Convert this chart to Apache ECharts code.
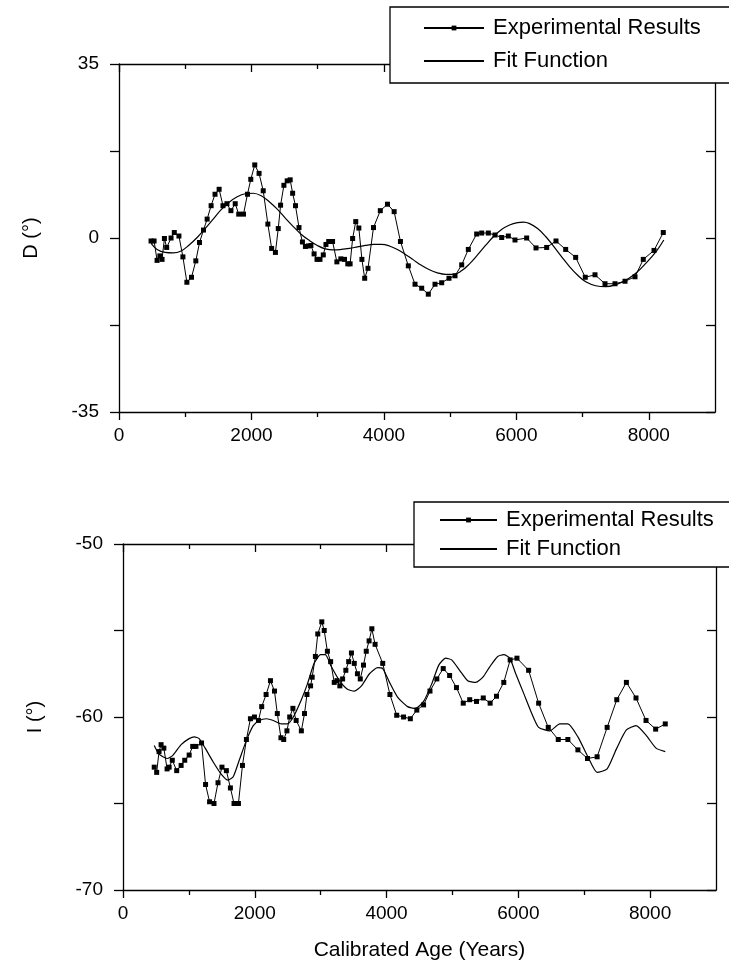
<!DOCTYPE html>
<html>
<head>
<meta charset="utf-8">
<title>D and I vs calibrated age</title>
<script src="https://cdn.jsdelivr.net/npm/echarts@6.0.0/dist/echarts.min.js"></script>
<style>
  html, body { margin: 0; padding: 0; background: #fff; }
  #chart { width: 729px; height: 979px; }
</style>
</head>
<body>
<div id="chart"></div>
<script>
// values (age in years, angles in degrees)
var ageTicks = [0, 2000, 4000, 6000, 8000];
var ageMinorTicks = [1000, 3000, 5000, 7000];
var decTicks = [-35, 0, 35];
var incTicks = [-70, -60, -50];

// D, experimental
var decExpAge = [484, 530, 575, 617, 650, 686, 720, 786, 835, 905, 965, 1025, 1095, 1160, 1216, 1276, 1331, 1391, 1450, 1512,
  1570, 1630, 1690, 1755, 1808, 1880, 1940, 1990, 2050, 2115, 2178, 2248, 2305, 2362, 2405, 2440, 2490, 2540, 2585, 2622,
  2665, 2718, 2770, 2815, 2860, 2898, 2946, 2990, 3035, 3085, 3125, 3167, 3225, 3290, 3350, 3405, 3455, 3490, 3528, 3575,
  3622, 3668, 3710, 3760, 3843, 3946, 4054, 4155, 4250, 4369, 4470, 4571, 4671, 4772, 4873, 4983, 5074, 5175, 5275, 5401,
  5477, 5577, 5678, 5779, 5879, 5980, 6156, 6297, 6458, 6599, 6745, 6896, 7041, 7188, 7339, 7490, 7641, 7792, 7917, 8079, 8219];
var decExp = [-0.6, -0.6, -4.5, -3.6, -4.3, -0.1, -1.9, 0.0, 1.1, 0.4, -3.8, -8.9, -7.9, -4.6, -0.9, 1.6, 3.8, 6.5, 8.8, 9.8,
  6.5, 6.9, 5.5, 6.9, 4.8, 4.8, 8.8, 11.8, 14.7, 13.0, 9.5, 2.8, -2.1, -2.9, 1.9, 6.6, 10.6, 11.5, 11.7, 9.0,
  6.5, 2.1, -0.8, -1.7, -1.6, -1.5, -3.2, -4.3, -4.3, -3.4, -1.3, -0.7, -0.7, -4.8, -4.2, -4.3, -5.2, -5.2, -0.1, 3.3,
  2.0, -4.3, -8.1, -6.1, 2.1, 5.5, 6.8, 5.3, -0.7, -5.6, -9.3, -10.1, -11.3, -9.3, -9.0, -8.1, -7.6, -5.4, -2.3, 0.8,
  1.0, 1.0, 0.6, 0.1, 0.4, -0.4, 0.0, -2.0, -1.9, -0.6, -2.3, -3.9, -7.9, -7.4, -9.2, -9.2, -8.7, -7.8, -4.3, -2.5, 1.1];

// D, fit
var decFitAge = [484, 575, 696, 817, 938, 1059, 1180, 1301, 1422, 1543, 1664, 1785, 1906, 2027, 2148, 2269, 2390, 2511, 2632, 2753,
  2874, 2995, 3116, 3237, 3358, 3479, 3600, 3720, 3841, 3962, 4083, 4204, 4325, 4446, 4567, 4688, 4809, 4930, 5051, 5172,
  5293, 5414, 5535, 5656, 5777, 5898, 6019, 6110, 6201, 6322, 6443, 6564, 6685, 6806, 6927, 7048, 7199, 7350, 7501, 7653,
  7804, 7955, 8107, 8227];
var decFit = [-1.1, -2.3, -2.9, -3.0, -2.6, -1.4, 0.1, 1.9, 3.8, 5.7, 7.2, 8.3, 8.9, 9.0, 8.5, 7.3, 5.8, 4.0, 2.3, 0.7,
  -0.5, -1.5, -2.2, -2.4, -2.3, -2.1, -1.8, -1.5, -1.3, -1.3, -1.6, -2.3, -3.3, -4.4, -5.5, -6.4, -7.0, -7.3, -7.3, -6.6,
  -5.2, -3.4, -1.5, 0.3, 1.7, 2.6, 3.1, 3.2, 2.9, 1.9, 0.3, -1.7, -3.8, -5.8, -7.5, -8.8, -9.6, -9.8, -9.4, -8.5,
  -7.1, -5.1, -2.8, -0.4];

// I, experimental
var incExpAge = [474, 511, 547, 578, 620, 669, 700, 748, 815, 882, 937, 1004, 1058, 1107, 1192, 1253, 1314, 1381, 1442, 1502,
  1569, 1630, 1685, 1752, 1813, 1873, 1934, 1995, 2056, 2105, 2172, 2238, 2299, 2342, 2397, 2439, 2488, 2530, 2579, 2628,
  2707, 2755, 2792, 2847, 2871, 2920, 2956, 3017, 3054, 3102, 3151, 3206, 3248, 3291, 3333, 3382, 3425, 3467, 3510, 3558,
  3601, 3650, 3692, 3735, 3777, 3826, 3942, 4051, 4154, 4258, 4361, 4459, 4562, 4659, 4763, 4860, 4957, 5061, 5164, 5262,
  5365, 5468, 5572, 5669, 5779, 5876, 5979, 6156, 6308, 6454, 6606, 6752, 6904, 7050, 7196, 7348, 7494, 7640, 7786, 7938,
  8084, 8230];
var incExp = [-62.9, -63.2, -62.0, -61.6, -61.8, -63.0, -62.9, -62.5, -63.1, -62.8, -62.5, -62.2, -61.7, -61.7, -61.5, -63.9, -64.9, -65.0, -63.8, -62.9,
  -63.1, -64.1, -65.0, -65.0, -62.8, -61.3, -60.1, -60.0, -60.2, -59.4, -58.7, -57.9, -58.5, -59.8, -61.2, -61.3, -60.8, -60.0, -59.5, -60.2,
  -60.8, -59.8, -58.7, -58.2, -57.7, -56.5, -55.2, -54.5, -55.0, -56.2, -56.8, -58.0, -57.9, -58.2, -57.8, -57.3, -56.8, -56.3, -56.9, -57.5,
  -57.8, -57.0, -56.2, -55.6, -54.9, -55.8, -56.9, -58.7, -59.9, -60.0, -60.1, -59.6, -59.3, -58.5, -57.8, -57.2, -57.6, -58.3, -59.2, -59.0,
  -59.1, -58.9, -59.2, -58.8, -58.0, -56.7, -56.6, -57.3, -59.2, -60.6, -61.3, -61.3, -61.9, -62.4, -62.3, -60.6, -59.0, -58.0, -58.9, -60.2,
  -60.7, -60.4];

// I, fit
var incFitAge = [474, 547, 669, 760, 882, 1004, 1083, 1156, 1247, 1369, 1490, 1594, 1673, 1764, 1873, 1977, 2068, 2178, 2281, 2403,
  2494, 2585, 2707, 2798, 2901, 2999, 3071, 3163, 3285, 3406, 3510, 3619, 3741, 3863, 3942, 4045, 4167, 4319, 4440, 4562,
  4684, 4793, 4897, 4988, 5109, 5231, 5353, 5462, 5566, 5687, 5779, 5870, 5961, 6083, 6204, 6308, 6478, 6630, 6752, 6904,
  7056, 7196, 7348, 7494, 7640, 7786, 7938, 8090, 8230];
var incFit = [-61.65, -62.15, -62.4, -62.2, -61.6, -61.25, -61.15, -61.25, -61.8, -62.6, -63.3, -63.65, -63.45, -62.5, -61.35, -60.5, -60.2, -60.1, -60.2, -60.4,
  -60.4, -60.0, -59.0, -58.1, -56.9, -56.4, -56.4, -57.1, -57.9, -58.4, -58.5, -58.2, -57.5, -57.15, -57.2, -58.0, -58.85, -59.4, -59.5, -59.1,
  -58.1, -57.0, -56.6, -56.7, -57.3, -57.9, -58.0, -57.7, -57.1, -56.5, -56.4, -56.6, -57.5, -58.65, -59.8, -60.6, -60.8, -60.4, -60.4, -61.15,
  -62.3, -63.2, -63.0, -61.8, -60.75, -60.5, -61.05, -61.8, -62.0];

function pairs(xs, ys) {
  return xs.map(function (x, i) { return [x, ys[i]]; });
}

var FONT = '"Liberation Sans", Arial, Helvetica, sans-serif';
var BLACK = '#000';
var lineSt = { color: BLACK, width: 1.3 };
var plain = function (v) { return String(v); };

// 4 x axes per panel: labelled bottom, minor bottom, mirrored top, minor top
function makeXAxes(grid, name) {
  var base = { type: 'value', gridIndex: grid, min: 0, max: 9000, interval: 1000, splitLine: { show: false } };
  return [
    Object.assign({}, base, {
      position: 'bottom',
      axisLine: { show: true, onZero: false, lineStyle: lineSt },
      axisTick: { show: true, inside: false, length: 8, customValues: ageTicks, lineStyle: lineSt },
      axisLabel: { customValues: ageTicks, formatter: plain, color: BLACK, fontSize: 19, fontFamily: FONT, margin: 14 },
      name: name || '',
      nameLocation: 'middle',
      nameGap: 50,
      nameTextStyle: { color: BLACK, fontSize: 21, fontFamily: FONT }
    }),
    Object.assign({}, base, {
      position: 'bottom',
      axisLine: { show: false, onZero: false },
      axisTick: { show: true, inside: false, length: 5, customValues: ageMinorTicks, lineStyle: lineSt },
      axisLabel: { show: false }
    }),
    Object.assign({}, base, {
      position: 'top',
      axisLine: { show: true, onZero: false, lineStyle: lineSt },
      axisTick: { show: true, inside: true, length: 8, customValues: ageTicks, lineStyle: lineSt },
      axisLabel: { show: false }
    }),
    Object.assign({}, base, {
      position: 'top',
      axisLine: { show: false, onZero: false },
      axisTick: { show: true, inside: true, length: 5, customValues: ageMinorTicks, lineStyle: lineSt },
      axisLabel: { show: false }
    })
  ];
}

function makeYAxes(grid, min, max, step, labels, name) {
  var base = { type: 'value', gridIndex: grid, min: min, max: max, interval: step, splitLine: { show: false } };
  return [
    Object.assign({}, base, {
      position: 'left',
      axisLine: { show: true, onZero: false, lineStyle: lineSt },
      axisTick: { show: true, inside: false, length: 9, lineStyle: lineSt },
      axisLabel: { customValues: labels, formatter: plain, color: BLACK, fontSize: 19, fontFamily: FONT, margin: 20 },
      name: name,
      nameLocation: 'middle',
      nameGap: 78,
      nameTextStyle: { color: BLACK, fontSize: 20, fontFamily: FONT }
    }),
    Object.assign({}, base, {
      position: 'right',
      axisLine: { show: true, onZero: false, lineStyle: lineSt },
      axisTick: { show: true, inside: true, length: 9, lineStyle: lineSt },
      axisLabel: { show: false }
    })
  ];
}

function expSeries(x, y, data) {
  return {
    name: 'Experimental Results', type: 'line', xAxisIndex: x, yAxisIndex: y, data: data,
    symbol: 'rect', symbolSize: 5, showSymbol: true,
    lineStyle: { color: BLACK, width: 1 }, itemStyle: { color: BLACK }, z: 3
  };
}
function fitSeries(x, y, data, smooth) {
  return {
    name: 'Fit Function', type: 'line', xAxisIndex: x, yAxisIndex: y, data: data,
    symbol: 'none', smooth: smooth,
    lineStyle: { color: BLACK, width: 1.2 }, itemStyle: { color: BLACK }, z: 2
  };
}

function makeLegend(left, top, padding, gap, iconW) {
  return {
    orient: 'vertical', left: left, top: top, padding: padding, itemGap: gap,
    itemWidth: iconW, itemHeight: 6, selectedMode: false,
    borderColor: BLACK, borderWidth: 1.3, backgroundColor: '#fff',
    data: [
      { name: 'Experimental Results' },
      { name: 'Fit Function', itemStyle: { opacity: 0 } }
    ],
    textStyle: { color: BLACK, fontSize: 22, fontFamily: FONT, padding: [0, 0, 0, 4] }
  };
}

var chart = echarts.init(document.getElementById('chart'), null, { renderer: 'canvas' });

var option = {
  animation: false,
  backgroundColor: '#fff',
  grid: [
    { left: 119, top: 64, width: 596, height: 348 },
    { left: 123, top: 544, width: 593, height: 346 }
  ],
  xAxis: makeXAxes(0).concat(makeXAxes(1, 'Calibrated Age (Years)')),
  yAxis: makeYAxes(0, -35, 35, 17.5, decTicks, 'D (°)').concat(makeYAxes(1, -70, -50, 5, incTicks, 'I (°)')),
  legend: [
    makeLegend(390, 7, [10, 60, 11, 33], 11, 60),
    makeLegend(414, 502, [7, 60, 7, 25], 7, 57)
  ],
  series: [
    expSeries(0, 0, pairs(decExpAge, decExp)),
    fitSeries(0, 0, pairs(decFitAge, decFit), 0.4),
    expSeries(4, 2, pairs(incExpAge, incExp)),
    fitSeries(4, 2, pairs(incFitAge, incFit), 0.2)
  ]
};

chart.setOption(option);
</script>
</body>
</html>
